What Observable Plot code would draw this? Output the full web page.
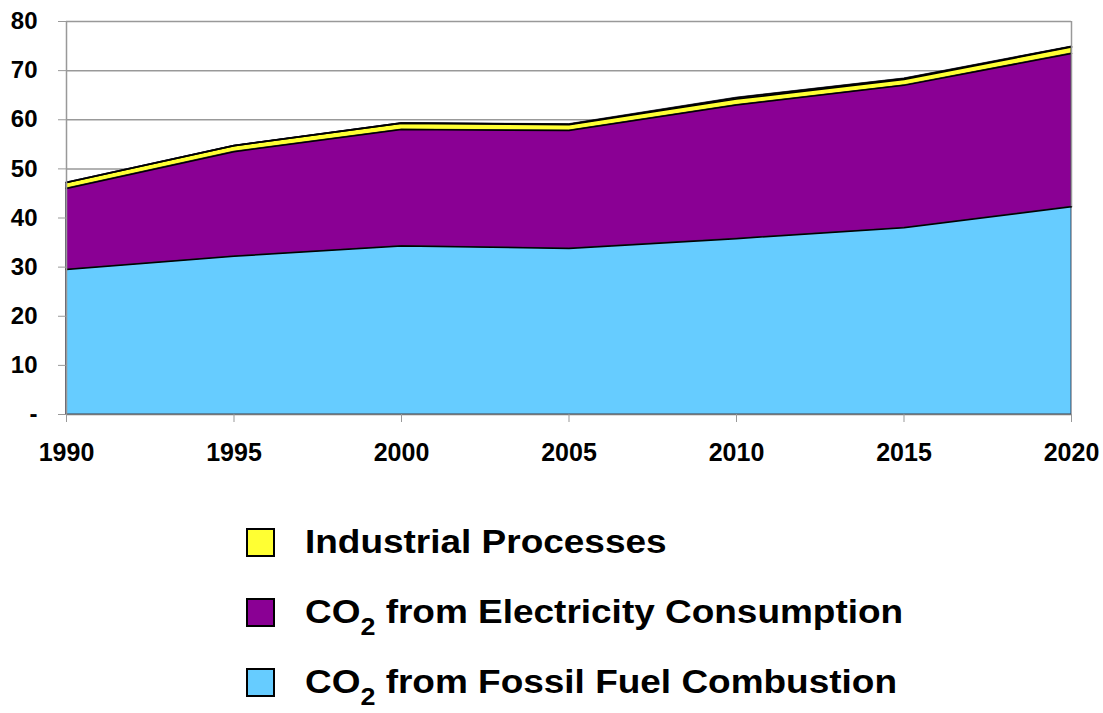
<!DOCTYPE html>
<html>
<head>
<meta charset="utf-8">
<script src="https://cdn.jsdelivr.net/npm/d3@7"></script>
<script src="https://cdn.jsdelivr.net/npm/@observablehq/plot@0.6"></script>
<style>
  body { margin: 0; background: #fff; font-family: "Liberation Sans", Arial, sans-serif; }
  #legend { margin-left: 246px; margin-top: 37px; }
  .row { display: flex; align-items: center; height: 70px; font-weight: bold; font-size: 33px; color: #000; }
  .sw { width: 25px; height: 25px; border: 2px solid #000; margin-right: 30px; box-sizing: content-box; flex: none; }
  .lab { display: inline-block; transform: scaleX(1.12); transform-origin: left center; white-space: nowrap; }
  sub { font-size: 24px; vertical-align: -12px; line-height: 0; }
</style>
</head>
<body>
<div id="chart"></div>
<div id="legend"></div>
<script>
const years = [1990, 1995, 2000, 2005, 2010, 2015, 2020];
const seriesNames = ["Fossil", "Electricity", "Industrial", "Other"];
const fossil      = [29.5, 32.2, 34.3, 33.8, 35.8, 38.0, 42.3];
const electricity = [16.5, 21.3, 23.7, 24.0, 27.2, 29.0, 31.2];
const industrial  = [1.2, 1.2, 1.3, 1.2, 1.2, 1.2, 1.3];
const other       = [0, 0, 0, 0.1, 0.3, 0.2, 0.1];
const colors = ["#66ccff", "#8a0094", "#ffff33", "#5f6f60"];
const yTicks = [0, 10, 20, 30, 40, 50, 60, 70, 80];
const xTicks = [1990, 1995, 2000, 2005, 2010, 2015, 2020];
const legendItems = [
  {label: "Industrial Processes", color: "#ffff33"},
  {label: "CO<sub>2</sub> from Electricity Consumption", color: "#8a0094"},
  {label: "CO<sub>2</sub> from Fossil Fuel Combustion", color: "#66ccff"}
];

const valuesBySeries = [fossil, electricity, industrial, other];
const data = [];
seriesNames.forEach((s, i) => years.forEach((y, j) => data.push({year: y, series: s, value: valuesBySeries[i][j]})));

const chart = Plot.plot({
  width: 1103,
  height: 470,
  marginLeft: 66,
  marginRight: 32,
  marginTop: 21,
  marginBottom: 56,
  style: {fontFamily: "Liberation Sans, Arial, sans-serif", fontWeight: "bold", color: "#000", background: "#fff"},
  color: {domain: seriesNames, range: colors},
  marks: [
    Plot.ruleY(yTicks.slice(1), {x1: 1990, x2: 2020, stroke: "#999", strokeWidth: 1.5}),
    Plot.areaY(data, {x: "year", y: "value", z: "series", fill: "series", order: seriesNames, stroke: "#223", strokeWidth: 0.8}),
    Plot.lineY(data, Plot.stackY2({x: "year", y: "value", z: "series", order: seriesNames, stroke: "#000", strokeWidth: 1.5})),
    Plot.ruleX([1990], {y1: 0, y2: 80, stroke: "#999", strokeWidth: 1.5}),
    Plot.ruleX([2020], {y1: 42.3, y2: 80, stroke: "#999", strokeWidth: 1.5}),
    Plot.ruleY([0], {stroke: "#777", strokeWidth: 1.5}),
    Plot.axisX({ticks: xTicks, tickFormat: d => String(d), tickSize: 8, tickPadding: 21, fontSize: 25, stroke: "#999", label: null}),
    Plot.axisY({ticks: yTicks, tickFormat: d => d === 0 ? "-" : String(d), tickSize: 8, tickPadding: 21, fontSize: 24, stroke: "#999", label: null})
  ],
  x: {domain: [1990, 2020]},
  y: {domain: [0, 80]}
});
chart.querySelectorAll("g[aria-label$='axis'] text, g[aria-label$='tick label'] text").forEach(e => e.setAttribute("fill", "#000"));
document.getElementById("chart").appendChild(chart);

const legend = document.getElementById("legend");
legendItems.forEach(it => {
  const row = document.createElement("div");
  row.className = "row";
  row.innerHTML = `<div class="sw" style="background:${it.color}"></div><span class="lab">${it.label}</span>`;
  legend.appendChild(row);
});
</script>
</body>
</html>
